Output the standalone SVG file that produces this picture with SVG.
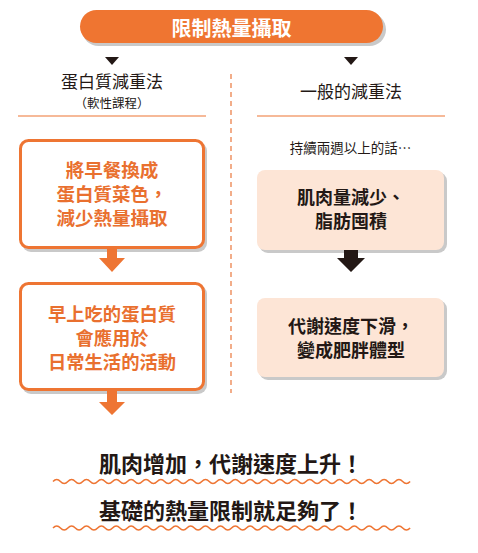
<svg xmlns="http://www.w3.org/2000/svg" width="478" height="553" viewBox="0 0 478 553">
<defs>
<style>
.t{font-family:"Noto Sans CJK TC","Noto Sans CJK SC",sans-serif;text-anchor:middle}
.b{font-weight:700}
.wt{fill:#ffffff}
.or{fill:#E9702F}
.dk{fill:#231815}
.sh{fill:#c9c9c9}
.obox{fill:#ffffff;stroke:#EE7533;stroke-width:3}
.pbox{fill:#FDE5D6}
.oline{stroke:#EE7533;stroke-width:1.2;fill:none}
.wave{stroke:#EE7533;stroke-width:1.5;fill:none}
</style>
</defs>
<rect width="478" height="553" fill="#ffffff"/>

<g id="title">
<rect class="sh" x="82" y="13" width="304" height="33" rx="16.5"/>
<rect x="80" y="10" width="303" height="33" rx="16.5" fill="#EF7531"/>
<text class="t b wt" x="231.5" y="36" font-size="20">限制熱量攝取</text>
</g>

<g id="left-header">
<text class="t dk" x="112" y="88" font-size="17">蛋白質減重法</text>
<text class="t dk" x="112" y="107.5" font-size="12.5">（軟性課程）</text>
</g>

<g id="right-header">
<text class="t dk" x="351" y="98" font-size="17">一般的減重法</text>
</g>

<g id="left-box1">
<rect class="sh" x="22" y="142" width="185" height="110" rx="9"/>
<rect class="obox" x="20.5" y="140.5" width="183" height="107" rx="8"/>
<text class="t b or" font-size="18.5"><tspan x="112" y="177">將早餐換成</tspan><tspan x="112" y="201">蛋白質菜色，</tspan><tspan x="112" y="225">減少熱量攝取</tspan></text>
</g>

<g id="left-box2">
<rect class="sh" x="22" y="285" width="185" height="109" rx="9"/>
<rect class="obox" x="20.5" y="283.5" width="183" height="106" rx="8"/>
<text class="t b or" font-size="18.3"><tspan x="112" y="321">早上吃的蛋白質</tspan><tspan x="112" y="345">會應用於</tspan><tspan x="112" y="369">日常生活的活動</tspan></text>
</g>

<g id="right-note">
<text class="t dk" x="350.5" y="153" font-size="13.5">持續兩週以上的話…</text>
</g>

<g id="right-box1">
<rect class="sh" x="259" y="172" width="188" height="81" rx="9"/>
<rect class="pbox" x="257" y="170" width="187" height="80" rx="8"/>
<text class="t b dk" font-size="18"><tspan x="351" y="204">肌肉量減少、</tspan><tspan x="351" y="228">脂肪囤積</tspan></text>
</g>

<g id="right-box2">
<rect class="sh" x="259" y="300" width="188" height="80" rx="9"/>
<rect class="pbox" x="257" y="298" width="187" height="79" rx="8"/>
<text class="t b dk" font-size="18"><tspan x="351" y="333">代謝速度下滑，</tspan><tspan x="351" y="357">變成肥胖體型</tspan></text>
</g>

<g id="conclusion">
<text class="t b dk" x="231" y="472" font-size="22">肌肉增加，代謝速度上升！</text>
<text class="t b dk" x="231" y="519" font-size="22">基礎的熱量限制就足夠了！</text>
<path class="wave" d="M53,481.5 q3.72,-4 7.44,0 t7.44,0 t7.44,0 t7.44,0 t7.44,0 t7.44,0 t7.44,0 t7.44,0 t7.44,0 t7.44,0 t7.44,0 t7.44,0 t7.44,0 t7.44,0 t7.44,0 t7.44,0 t7.44,0 t7.44,0 t7.44,0 t7.44,0 t7.44,0 t7.44,0 t7.44,0 t7.44,0 t7.44,0 t7.44,0 t7.44,0 t7.44,0 t7.44,0 t7.44,0 t7.44,0 t7.44,0 t7.44,0 t7.44,0 t7.44,0 t7.44,0 t7.44,0 t7.44,0 t7.44,0 t7.44,0 t7.44,0 t7.44,0 t7.44,0 t7.44,0 t7.44,0 t7.44,0 t7.44,0 t7.44,0"/>
<path class="wave" d="M53,528 q3.72,-4 7.44,0 t7.44,0 t7.44,0 t7.44,0 t7.44,0 t7.44,0 t7.44,0 t7.44,0 t7.44,0 t7.44,0 t7.44,0 t7.44,0 t7.44,0 t7.44,0 t7.44,0 t7.44,0 t7.44,0 t7.44,0 t7.44,0 t7.44,0 t7.44,0 t7.44,0 t7.44,0 t7.44,0 t7.44,0 t7.44,0 t7.44,0 t7.44,0 t7.44,0 t7.44,0 t7.44,0 t7.44,0 t7.44,0 t7.44,0 t7.44,0 t7.44,0 t7.44,0 t7.44,0 t7.44,0 t7.44,0 t7.44,0 t7.44,0 t7.44,0 t7.44,0 t7.44,0 t7.44,0 t7.44,0 t7.44,0"/>
</g>

<g id="connectors">
<polygon points="105,57 119,57 112,65" fill="#231815"/>
<polygon points="344,57 358,57 351,65" fill="#231815"/>
<line class="oline" x1="18" y1="116" x2="206" y2="116"/>
<line class="oline" x1="257" y1="116" x2="445" y2="116"/>
<line x1="231" y1="74" x2="231" y2="393" stroke="#E9773C" stroke-width="1.2" stroke-dasharray="5 4"/>
<polygon points="107,249 117,249 117,258 125,258 112,272 99,258 107,258" fill="#EE7533"/>
<polygon points="107,391 117,391 117,402 125,402 112,415 99,402 107,402" fill="#EE7533"/>
<polygon points="344,250 358,250 358,258 365,258 351,272 337,258 344,258" fill="#231815"/>
</g>
</svg>
